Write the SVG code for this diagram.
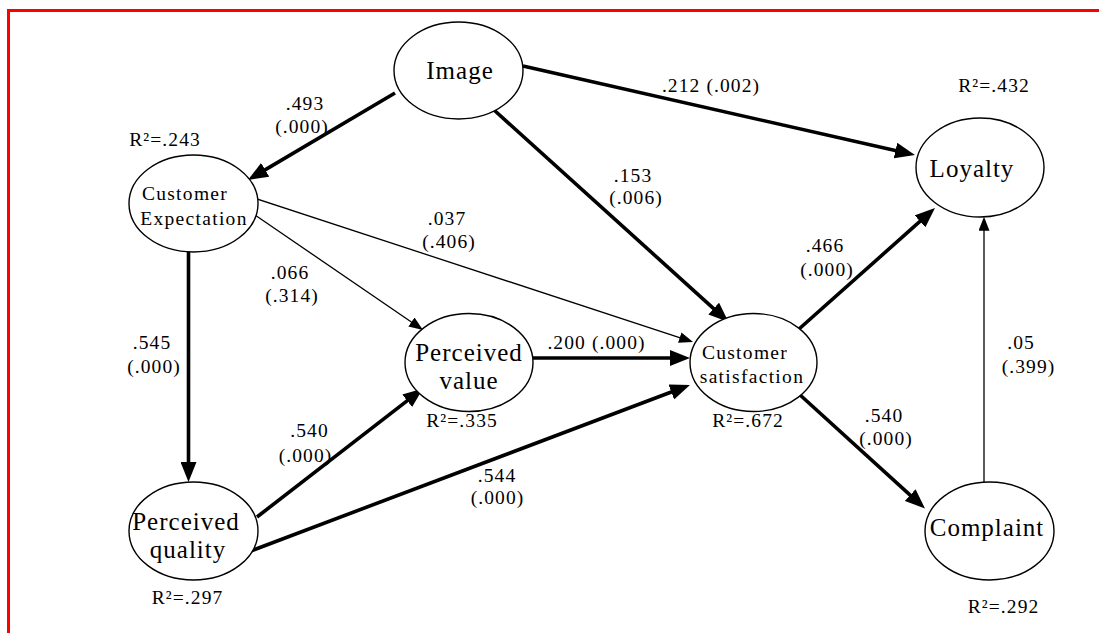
<svg xmlns="http://www.w3.org/2000/svg" width="1099" height="633" viewBox="0 0 1099 633">
<style>
.node ellipse{fill:#fff;stroke:#000;stroke-width:1.4}
.big{font-family:"Liberation Serif","Times New Roman",serif;font-size:25px;letter-spacing:1px;text-anchor:middle;fill:#000}
.sm{font-family:"Liberation Serif","Times New Roman",serif;font-size:19.5px;letter-spacing:1.3px;text-anchor:middle;fill:#000}
.lbl{font-family:"Liberation Serif","Times New Roman",serif;font-size:19.5px;letter-spacing:1.1px;text-anchor:middle;fill:#000}
.thick{stroke:#000;stroke-width:3.6;fill:none;marker-end:url(#ab)}
.thin{stroke:#000;stroke-width:1.3;fill:none;marker-end:url(#as)}
</style>
<defs>
<marker id="ab" markerUnits="userSpaceOnUse" markerWidth="20" markerHeight="16" refX="10" refY="8" orient="auto"><path d="M0,0 L20,8 L0,16 z" fill="#000"/></marker>
<marker id="as" markerUnits="userSpaceOnUse" markerWidth="14" markerHeight="11" refX="7" refY="5.5" orient="auto"><path d="M0,0 L14,5.5 L0,11 z" fill="#000"/></marker>
</defs>
<rect width="1099" height="633" fill="#fff"/>
<path d="M8.5,640 V10.5 H1100" fill="none" stroke="#ff0000" stroke-width="3"/>
<g id="connectors">
<line class="thick" x1="395" y1="93" x2="256.6" y2="174.9"/>
<line class="thick" x1="523" y1="66" x2="905.2" y2="152.8"/>
<line class="thick" x1="494" y1="110" x2="721.1" y2="315.3"/>
<line class="thin" x1="251" y1="197" x2="686.4" y2="339.8"/>
<line class="thin" x1="255" y1="215" x2="417.2" y2="326"/>
<line class="thick" x1="188.5" y1="252" x2="188.5" y2="472"/>
<line class="thick" x1="257" y1="517" x2="415.1" y2="394.6"/>
<line class="thick" x1="248" y1="552" x2="680.6" y2="388.5"/>
<line class="thick" x1="533" y1="358" x2="680" y2="358"/>
<line class="thick" x1="799" y1="329" x2="927.5" y2="214.7"/>
<line class="thick" x1="799" y1="394" x2="917.6" y2="501.8"/>
<line class="thin" x1="984" y1="482" x2="984" y2="223.7"/>
</g>
<g id="image" class="node"><ellipse cx="458.5" cy="70.5" rx="64.5" ry="48.5"/><text class="big" x="460" y="78.5">Image</text></g>
<g id="customer-expectation" class="node"><ellipse cx="193.5" cy="203.5" rx="64.5" ry="48.5"/><text class="sm" x="185" y="200">Customer</text><text class="sm" x="194" y="225">Expectation</text></g>
<g id="loyalty" class="node"><ellipse cx="980" cy="167.5" rx="64" ry="49.5"/><text class="big" x="972" y="176.5">Loyalty</text></g>
<g id="perceived-value" class="node"><ellipse cx="469" cy="362.5" rx="64" ry="49"/><text class="big" x="469" y="361">Perceived</text><text class="big" x="469" y="389">value</text></g>
<g id="customer-satisfaction" class="node"><ellipse cx="753.5" cy="362.5" rx="63.5" ry="49"/><text class="sm" x="745" y="359">Customer</text><text class="sm" x="752" y="383">satisfaction</text></g>
<g id="perceived-quality" class="node"><ellipse cx="193.5" cy="531" rx="64.5" ry="49"/><text class="big" x="186" y="530">Perceived</text><text class="big" x="188" y="558">quality</text></g>
<g id="complaint" class="node"><ellipse cx="989.5" cy="531" rx="64.5" ry="49"/><text class="big" x="987" y="536">Complaint</text></g>
<g id="labels">
<text class="lbl" x="305" y="110">.493</text><text class="lbl" x="302" y="132.5">(.000)</text>
<text class="lbl" x="165" y="145.5">R²=.243</text>
<text class="lbl" x="711" y="91.5">.212 (.002)</text>
<text class="lbl" x="994" y="91.5">R²=.432</text>
<text class="lbl" x="633" y="181.5">.153</text><text class="lbl" x="636" y="203.5">(.006)</text>
<text class="lbl" x="447" y="225">.037</text><text class="lbl" x="449" y="248">(.406)</text>
<text class="lbl" x="825" y="251.5">.466</text><text class="lbl" x="827" y="275.5">(.000)</text>
<text class="lbl" x="290" y="278.5">.066</text><text class="lbl" x="292" y="301.5">(.314)</text>
<text class="lbl" x="152" y="348.5">.545</text><text class="lbl" x="154" y="372.5">(.000)</text>
<text class="lbl" x="596.5" y="348.5">.200 (.000)</text>
<text class="lbl" x="1021" y="348.5">.05</text><text class="lbl" x="1028.5" y="372.5">(.399)</text>
<text class="lbl" x="884" y="421.5">.540</text><text class="lbl" x="886" y="445">(.000)</text>
<text class="lbl" x="462" y="426.5">R²=.335</text>
<text class="lbl" x="748" y="426.5">R²=.672</text>
<text class="lbl" x="309.5" y="436.5">.540</text><text class="lbl" x="305.5" y="461.5">(.000)</text>
<text class="lbl" x="497" y="481.5">.544</text><text class="lbl" x="497.5" y="503.5">(.000)</text>
<text class="lbl" x="187.5" y="604">R²=.297</text>
<text class="lbl" x="1003.5" y="613">R²=.292</text>
</g>
</svg>
